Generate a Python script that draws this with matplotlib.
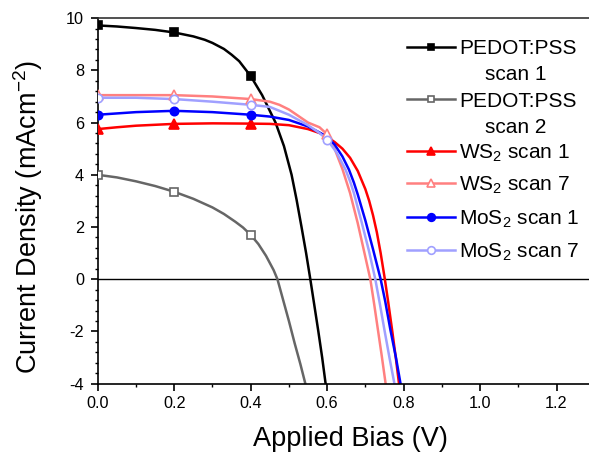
import numpy as np
import matplotlib
matplotlib.use("Agg")
import matplotlib.pyplot as plt
from matplotlib.lines import Line2D
from matplotlib.ticker import MultipleLocator, FormatStrFormatter

plt.rcParams["font.family"] = ["Liberation Sans", "DejaVu Sans"]
plt.rcParams["mathtext.fontset"] = "custom"
plt.rcParams["mathtext.rm"] = "Liberation Sans"
plt.rcParams["mathtext.it"] = "Liberation Sans"
plt.rcParams["axes.unicode_minus"] = False

# J-V curves (V, mA cm^-2)
pedot1_v = [0.0, 0.05, 0.1, 0.15, 0.2, 0.25, 0.28, 0.3, 0.33, 0.35, 0.37, 0.4, 0.43, 0.465,
            0.487, 0.507, 0.52, 0.533, 0.545, 0.556, 0.566, 0.577, 0.587, 0.596]
pedot1_j = [9.72, 9.68, 9.62, 9.55, 9.45, 9.3, 9.17, 9.05, 8.82, 8.6, 8.35, 7.78, 7.05, 6.0,
            5.1, 4.0, 3.05, 2.0, 1.0, 0.0, -0.95, -2.0, -3.0, -4.0]

pedot2_v = [0.0, 0.05, 0.1, 0.15, 0.2, 0.25, 0.3, 0.33, 0.36, 0.38, 0.4, 0.42, 0.44, 0.46,
            0.47, 0.485, 0.5, 0.515, 0.53, 0.543]
pedot2_j = [4.0, 3.9, 3.75, 3.57, 3.35, 3.08, 2.75, 2.5, 2.2, 1.98, 1.7, 1.35, 0.9, 0.35,
            0.0, -0.8, -1.6, -2.45, -3.25, -4.0]

ws1_v = [0.0, 0.05, 0.1, 0.2, 0.3, 0.4, 0.45, 0.5, 0.55, 0.58, 0.6, 0.62, 0.64, 0.66, 0.68,
         0.7, 0.71, 0.72, 0.73, 0.74, 0.751, 0.76, 0.77, 0.78, 0.788]
ws1_j = [5.75, 5.82, 5.88, 5.95, 5.97, 5.96, 5.95, 5.9, 5.75, 5.6, 5.45, 5.25, 5.0, 4.65, 4.15,
         3.45, 3.0, 2.45, 1.8, 1.0, 0.0, -0.9, -1.95, -3.05, -4.0]

ws7_v = [0.0, 0.1, 0.2, 0.3, 0.4, 0.45, 0.475, 0.5, 0.525, 0.55, 0.58, 0.6, 0.62, 0.64, 0.66,
         0.68, 0.7, 0.713, 0.723, 0.733, 0.743, 0.753]
ws7_j = [7.05, 7.05, 7.05, 7.0, 6.9, 6.8, 6.68, 6.5, 6.25, 6.0, 5.82, 5.55, 4.98, 4.22, 3.3,
         2.15, 0.85, 0.0, -0.95, -1.95, -2.95, -4.0]

mos1_v = [0.0, 0.1, 0.2, 0.3, 0.4, 0.45, 0.5, 0.55, 0.58, 0.6, 0.62, 0.64, 0.657, 0.67, 0.68,
          0.7, 0.72, 0.74, 0.752, 0.765, 0.78, 0.792]
mos1_j = [6.3, 6.4, 6.45, 6.4, 6.3, 6.23, 6.1, 5.85, 5.62, 5.45, 5.15, 4.7, 4.2, 3.7, 3.25,
          2.25, 1.15, 0.0, -0.85, -1.9, -3.0, -4.0]

mos7_v = [0.0, 0.1, 0.2, 0.3, 0.4, 0.45, 0.5, 0.55, 0.58, 0.6, 0.625, 0.648, 0.66, 0.67, 0.69,
          0.71, 0.726, 0.738, 0.75, 0.763, 0.776]
mos7_j = [6.95, 6.95, 6.9, 6.8, 6.68, 6.6, 6.3, 5.9, 5.6, 5.35, 4.85, 4.2, 3.75, 3.3, 2.2,
          1.05, 0.0, -0.95, -1.95, -3.0, -4.0]

marker_v = [0.0, 0.2, 0.4, 0.6]

series = [
    (pedot1_v, pedot1_j, "black", "s", True, "PEDOT:PSS", "scan 1"),
    (pedot2_v, pedot2_j, "#666666", "s", False, "PEDOT:PSS", "scan 2"),
    (ws1_v, ws1_j, "#ff0000", "^", True, "WS$_2$ scan 1", None),
    (ws7_v, ws7_j, "#ff8080", "^", False, "WS$_2$ scan 7", None),
    (mos1_v, mos1_j, "#0000ff", "o", True, "MoS$_2$ scan 1", None),
    (mos7_v, mos7_j, "#a0a0ff", "o", False, "MoS$_2$ scan 7", None),
]
msize = {"s": 5.5, "^": 6.5, "o": 6.0}

W, H = 589, 453
fig = plt.figure(figsize=(W / 100, H / 100), dpi=100)
ax = fig.add_axes([0.166, 0.153, 0.834, 0.807])

ax.axhline(0, color="black", lw=1.0, zorder=1)

for v, j, c, m, filled, lab, lab2 in series:
    ax.plot(v, j, color=c, lw=1.8, zorder=2)
    # markers every 0.2 V while the curve is still on the plot
    mv = [x for x in marker_v if x <= v[-1]]
    if filled and m != "s":
        mv = mv[:3]
    mj = np.interp(mv, v, j)
    keep = mj > -4
    ax.plot(np.array(mv)[keep], mj[keep], linestyle="none", marker=m, markersize=msize[m],
            markerfacecolor=c if filled else "white", markeredgecolor=c,
            markeredgewidth=1.2, zorder=3)

ax.set_xlim(0, 1.285)
ax.set_ylim(-4, 10)
ax.xaxis.set_major_locator(MultipleLocator(0.2))
ax.xaxis.set_minor_locator(MultipleLocator(0.1))
ax.yaxis.set_major_locator(MultipleLocator(2))
ax.yaxis.set_minor_locator(MultipleLocator(0.4))
ax.xaxis.set_major_formatter(FormatStrFormatter("%.1f"))
ax.tick_params(which="major", direction="out", length=5, width=1.2, labelsize=11.7)
ax.tick_params(which="minor", direction="out", length=2.5, width=1.0)
ax.tick_params(axis="y", which="major", pad=5)
ax.tick_params(axis="x", which="major", pad=4)

for s in ["left", "bottom", "top"]:
    ax.spines[s].set_linewidth(1.2)
ax.spines["top"].set_color("#333333")
ax.spines["right"].set_visible(False)

ax.set_xlabel("Applied Bias (V)", fontsize=19.5)
ax.set_ylabel("Current Density (mAcm$^{-2}$)", fontsize=19.5)
ax.xaxis.set_label_coords(0.514, -0.115, transform=ax.transAxes)
ax.yaxis.set_label_coords(-0.142, 0.456, transform=ax.transAxes)
ax.xaxis.label.set_va("top")
ax.yaxis.label.set_va("center")

# legend drawn by hand: handle rows (pixel y from top) and wrapped second lines
row_y = [46.7, 99.3, 150.7, 183, 216.7, 250]
x0, x1, xt = 407, 455, 459
for (v, j, c, m, filled, lab, lab2), y in zip(series, row_y):
    fy = 1 - y / H
    fig.add_artist(Line2D([x0 / W, (x0 + x1) / 2 / W, x1 / W], [fy] * 3, color=c, lw=1.8,
                          marker=m, markevery=[1], markersize=msize[m] - 0.5,
                          markerfacecolor=c if filled else "white", markeredgecolor=c,
                          markeredgewidth=1.2, transform=fig.transFigure))
    fig.text(xt / W, 1 - (y + 7.5) / H, lab, fontsize=15, va="baseline", ha="left")
    if lab2:
        fig.text(485 / W, 1 - (y + 26 + 7.5) / H, lab2, fontsize=15, va="baseline", ha="left")

fig.savefig("out.png", dpi=100)
